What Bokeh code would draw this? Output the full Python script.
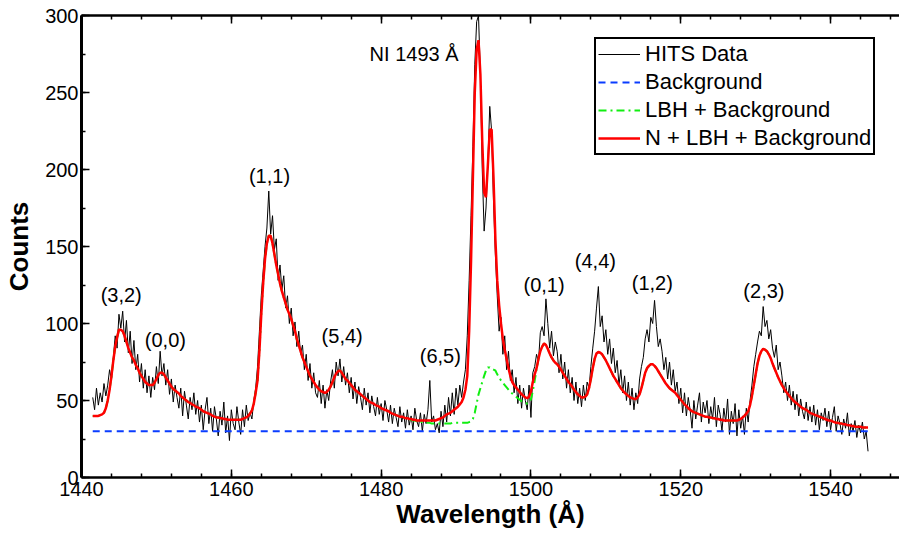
from bokeh.plotting import figure
from bokeh.models import (Range1d, LinearAxis, SingleIntervalTicker, Legend,
                          LegendItem, ColumnDataSource, CustomJSTickFormatter)
from bokeh.core.properties import value
from bokeh.embed import file_html
from bokeh.resources import INLINE

# ---------------- data ----------------
wl_start = 1441.5   # first wavelength bin (Å)
wl_step = 0.25      # bin width (Å)

# HITS counts, 8 bins (2 Å) per row
counts = [
    52, 44, 58, 47, 55, 49, 61, 53,
    60, 70, 63, 78, 92, 84, 106, 97,
    108, 88, 102, 81, 95, 74, 89, 70,
    80, 62, 74, 58, 70, 55, 66, 52,
    65, 57, 72, 61, 82, 66, 74, 60,
    70, 54, 64, 49, 60, 52, 45, 58,
    40, 56, 47, 38, 52, 44, 55, 41,
    50, 36, 47, 31, 44, 52, 35, 45,
    30, 46, 38, 27, 43, 34, 49, 29,
    40, 24, 44, 35, 31, 46, 36, 28,
    44, 33, 47, 37, 42, 38, 50, 58,
    72, 95, 118, 134, 150, 162, 186, 158,
    170, 148, 155, 128, 138, 122, 131, 110,
    118, 100, 110, 92, 101, 85, 95, 80,
    86, 70, 80, 63, 74, 58, 68, 55,
    52, 63, 48, 60, 45, 57, 50, 62,
    70, 58, 75, 66, 77, 62, 72, 60,
    68, 55, 65, 51, 62, 48, 59, 52,
    44, 58, 47, 55, 42, 53, 46, 40,
    52, 41, 48, 37, 50, 44, 36, 47,
    35, 45, 39, 33, 46, 36, 42, 32,
    44, 34, 40, 31, 45, 37, 33, 42,
    30, 41, 35, 44, 63, 36, 40, 31,
    35, 29, 43, 33, 47, 36, 52, 40,
    55, 41, 58, 47, 60, 52, 62, 70,
    92, 128, 170, 215, 268, 296, 300, 262,
    200, 160, 175, 205, 241, 225, 180, 145,
    118, 95, 104, 80, 92, 70, 82, 63,
    70, 55, 65, 48, 60, 45, 58, 50,
    44, 60, 39, 68, 72, 80, 75, 94,
    98, 92, 116, 100, 84, 95, 79, 88,
    82, 68, 80, 64, 75, 58, 70, 55,
    65, 50, 62, 48, 58, 46, 60, 50,
    62, 58, 72, 84, 95, 110, 124, 98,
    105, 88, 96, 80, 90, 74, 84, 68,
    76, 60, 70, 55, 66, 50, 62, 47,
    58, 44, 55, 48, 64, 72, 78, 90,
    96, 88, 104, 100, 115, 98, 85, 90,
    82, 70, 78, 64, 75, 60, 70, 56,
    62, 48, 58, 42, 55, 40, 52, 44,
    32, 50, 38, 47, 55, 36, 49, 42,
    50, 35, 46, 38, 52, 33, 47, 41,
    30, 45, 36, 51, 28, 43, 35, 48,
    27, 44, 32, 40, 28, 45, 36, 50,
    60, 72, 80, 88, 95, 92, 111, 98,
    102, 90, 96, 84, 78, 86, 70, 75,
    66, 55, 62, 50, 60, 47, 56, 44,
    54, 40, 51, 43, 38, 49, 37, 46,
    36, 47, 34, 44, 31, 42, 37, 45,
    33, 43, 31, 39, 46, 30, 40, 35,
    28, 38, 32, 42, 27, 35, 30, 37,
    26, 34, 29, 36, 25, 30, 17,
]

# N + LBH + Background fit, same bins
fit_total = [
    40, 40, 40, 40, 40.5, 41, 42, 45,
    50, 57, 66, 76, 85, 91, 96, 96,
    95, 92, 88, 84, 81, 78, 76, 73,
    71, 68, 66, 64, 62, 61, 60, 60,
    60, 61.5, 64, 66.5, 68, 68, 67, 65,
    63, 61, 59, 57.5, 56.5, 55.5, 54.5, 53,
    52, 51, 50, 49, 48.5, 47.5, 47, 46,
    45.5, 45, 44, 43, 42.5, 42, 41.5, 41,
    40, 39.5, 39, 39, 38.5, 38.5, 38, 38,
    37.5, 37.5, 37.5, 37.5, 37.5, 37.5, 37.5, 37.5,
    38, 38.5, 39, 40, 41.5, 43.5, 48, 55,
    63, 82, 106, 126, 142, 152, 157, 157,
    152, 145, 138, 132, 126, 121, 117, 113,
    109, 106, 103, 99, 95, 90, 86, 82,
    78, 75, 72, 69, 66, 64, 62, 60,
    58.5, 57, 56, 55.5, 55, 55.5, 57, 59,
    62, 65, 67.5, 69, 69.5, 68, 66, 64,
    63, 61.5, 60, 58.5, 57, 56, 55, 54,
    53, 52, 51, 50, 49, 48.5, 48, 47,
    46.5, 46, 45, 44.5, 44, 43.5, 43, 42,
    41.5, 41, 40.5, 40, 39.5, 39.5, 39, 38.5,
    38.5, 38, 38, 37.5, 37.5, 37, 37, 37,
    37, 37, 37, 37, 37, 37, 37, 37,
    37.5, 38, 38.5, 39, 40, 41, 41.5, 42,
    43, 44, 45, 46, 47.5, 49, 52, 57,
    66, 95, 140, 195, 250, 278, 284, 262,
    218, 185, 182, 203, 226, 226, 195, 155,
    128, 112, 100, 90, 83, 77, 71, 66,
    62, 60, 58.5, 57, 55.5, 54, 53, 52,
    51.5, 52.5, 56, 62, 67, 71, 77, 82,
    85, 87, 86, 83.5, 80.5, 78, 76, 74.5,
    73.5, 72, 70, 68, 66, 64, 62, 60.5,
    59, 57, 55.5, 54, 53, 52, 52, 52.5,
    54, 58, 64, 71, 77, 80.5, 81.5, 81,
    80, 78, 76, 73.5, 71, 68.5, 66, 64,
    62, 60, 58, 56.5, 55, 54, 53, 52,
    51.5, 51, 51, 52, 54, 58, 63, 68,
    71, 72.5, 73.5, 73.5, 72.5, 71, 69, 67,
    65, 63, 61, 59.5, 58, 57, 56, 55,
    53.5, 52, 50.5, 49, 47.5, 46.5, 45, 44,
    43, 42.5, 42, 41.5, 41, 40.5, 40, 39.5,
    39.5, 39, 39, 38.5, 38.5, 38, 38, 37.5,
    37.5, 37, 37, 37, 37, 37, 37, 37,
    37, 37.5, 38, 39, 40, 41.5, 43, 47,
    53, 60, 67, 74, 79, 82, 83.5, 83,
    82, 80, 77.5, 74, 71, 68, 65, 62.5,
    60, 58, 56, 54.5, 53, 51.5, 50, 49,
    48, 47, 46, 45, 44.5, 44, 43, 42,
    41.5, 41, 40.5, 40, 39.5, 39, 38.5, 38,
    37.5, 37, 37, 36.5, 36, 35.5, 35.5, 35,
    35, 34.5, 34.5, 34, 34, 33.5, 33.5, 33,
    33, 33, 33, 32.5, 32.5, 32.5, 32.5,
]

# LBH + Background where it departs from the total fit (1484.0 - 1500.75 Å)
lbh_window_start = 1484.0
lbh_window = [
    37.5, 37, 37, 36.5, 36.5, 36, 36, 36,
    35.5, 35.5, 35.5, 35, 35, 35, 35, 35,
    35, 35, 35, 35, 35, 35, 35.5, 35.5,
    35.5, 35.5, 35.5, 35.5, 35.5, 35.5, 35.5,
    36, 36.5, 38, 42, 48, 54, 58, 62, 66,
    69.5, 71.5, 71.5, 70.5, 70, 69.5, 67, 65,
    63, 61.5, 60, 58.5, 57, 55.5, 54.5, 53.5,
    52.5, 51.5, 50.5, 49.5, 49, 48.5, 48, 48.5,
    51, 56, 63, 70,
]

background_level = 30

band_labels = ["(3,2)", "(0,0)", "(1,1)", "(5,4)", "(6,5)", "(0,1)", "(4,4)", "(1,2)", "(2,3)", "NI 1493 Å"]
band_label_x = [1445.3, 1451.2, 1465.1, 1474.8, 1487.9, 1501.75, 1508.6, 1516.2, 1531.1, 1484.4]
band_label_y = [118.2, 89.6, 196.1, 92.2, 79.2, 124.7, 140.3, 126.3, 120.8, 275.3]

x_ticks_interval = 20
y_ticks_interval = 50

# ---------------- derived ----------------
n = len(counts)
wl = [wl_start + wl_step * i for i in range(n)]
i0 = int(round((lbh_window_start - wl_start) / wl_step))
lbh_bg = fit_total[:i0] + lbh_window + fit_total[i0 + len(lbh_window):]
bg = [background_level] * n

src = ColumnDataSource(dict(wl=wl, counts=counts, fit=fit_total, lbh=lbh_bg, bg=bg))

FONT = "Liberation Sans"

p = figure(width=899, height=534, x_range=Range1d(1440, 1549.2), y_range=Range1d(0, 300),
           output_backend="svg", toolbar_location=None,
           min_border_left=81, min_border_right=0, min_border_top=15, min_border_bottom=57,
           x_axis_label="Wavelength (Å)", y_axis_label="Counts")
p.outline_line_color = None
p.xgrid.grid_line_color = None
p.ygrid.grid_line_color = None
p.background_fill_color = "white"
p.border_fill_color = "white"

r_data = p.line("wl", "counts", source=src, line_color="black", line_width=1)
r_bg = p.line("wl", "bg", source=src, line_color="#0a3cff", line_width=2, line_dash="7 5")
r_lbh = p.line("wl", "lbh", source=src, line_color="#11ee11", line_width=2, line_dash="8 4 2 4")
r_fit = p.line("wl", "fit", source=src, line_color="#ff0000", line_width=2.5)

p.text(x=band_label_x, y=band_label_y, text=band_labels, text_font=value(FONT),
       text_font_size="20px", text_align="center", text_baseline="middle", text_color="black")

xt = SingleIntervalTicker(interval=x_ticks_interval, num_minor_ticks=5)
yt = SingleIntervalTicker(interval=y_ticks_interval, num_minor_ticks=2)
p.xaxis.ticker = xt
p.yaxis.ticker = yt

for ax in (p.xaxis[0], p.yaxis[0]):
    ax.axis_line_width = 2.5
    ax.axis_line_color = "black"
    ax.major_tick_in = 8
    ax.major_tick_out = 0
    ax.minor_tick_in = 4
    ax.minor_tick_out = 0
    ax.major_tick_line_width = 1.5
    ax.minor_tick_line_width = 1.5
    ax.major_label_text_font = FONT
    ax.major_label_text_font_size = "20px"
    ax.major_label_text_color = "black"
    ax.axis_label_text_font = FONT
    ax.axis_label_text_font_size = "26px"
    ax.axis_label_text_font_style = "bold"
    ax.axis_label_text_color = "black"

p.yaxis.axis_line_width = 3
p.xaxis.major_label_standoff = 4
p.xaxis.axis_label_standoff = 0
p.yaxis.major_label_standoff = 3
p.yaxis.axis_label_standoff = 8

top = LinearAxis(ticker=SingleIntervalTicker(interval=x_ticks_interval, num_minor_ticks=5),
                 formatter=CustomJSTickFormatter(code="return '';"))
top.axis_line_width = 2.5
top.major_tick_in = 8
top.major_tick_out = 0
top.minor_tick_in = 4
top.minor_tick_out = 0
top.major_tick_line_width = 1.5
top.minor_tick_line_width = 1.5
top.major_label_standoff = 0
p.add_layout(top, "above")

legend = Legend(items=[
    LegendItem(label="HITS Data", renderers=[r_data]),
    LegendItem(label="Background", renderers=[r_bg]),
    LegendItem(label="LBH + Background", renderers=[r_lbh]),
    LegendItem(label="N + LBH + Background", renderers=[r_fit]),
], location=(513, 322))
legend.label_text_font = FONT
legend.label_text_font_size = "22px"
legend.label_text_color = "black"
legend.border_line_color = "black"
legend.border_line_width = 2
legend.border_line_alpha = 1
legend.background_fill_color = "white"
legend.background_fill_alpha = 1
legend.padding = 2
legend.spacing = 2
legend.label_height = 24
legend.glyph_height = 24
legend.glyph_width = 42
legend.label_standoff = 5
legend.margin = 0
p.add_layout(legend)

open("out.html", "w").write(file_html(p, INLINE))
